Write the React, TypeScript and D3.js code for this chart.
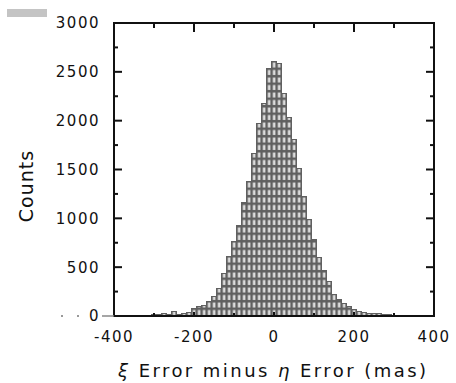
import React from "react";
import * as d3 from "d3";

const binCenters = [
  -312.5, -300, -287.5, -275, -262.5, -250, -237.5, -225, -212.5, -200, -187.5, -175, -162.5,
  -150, -137.5, -125, -112.5, -100, -87.5, -75, -62.5, -50, -37.5, -25, -12.5, 0, 12.5, 25,
  37.5, 50, 62.5, 75, 87.5, 100, 112.5, 125, 137.5, 150, 162.5, 175, 187.5, 200, 212.5, 225,
  237.5, 250, 262.5, 275, 287.5, 300, 312.5, 325,
];
const counts = [
  10, 15, 20, 25, 20, 50, 20, 30, 40, 75, 95, 110, 150, 195, 280, 440, 607, 760, 930, 1157,
  1375, 1666, 1973, 2171, 2530, 2610, 2590, 2283, 2035, 1812, 1515, 1220, 990, 780, 600, 470,
  350, 220, 165, 125, 95, 70, 50, 35, 30, 30, 25, 20, 15, 10, 8, 5,
];
const binWidth = 12.5;
const xTicksMajor = [-400, -200, 0, 200, 400];
const xTickLabels = ["-400", "-200", "0", "200", "400"];
const xTicksMinor = [-300, -100, 100, 300];
const yTicksMajor = [0, 500, 1000, 1500, 2000, 2500, 3000];
const yTickLabels = ["0", "500", "1000", "1500", "2000", "2500", "3000"];
const yTicksMinor = [250, 750, 1250, 1750, 2250, 2750];

const W = 456;
const H = 383;
const L = 114, R = 434, T = 23, B = 316;

export default function App() {
  const x = d3.scaleLinear().domain([-400, 400]).range([L, R]);
  const y = d3.scaleLinear().domain([0, 3000]).range([B, T]);
  const bw = x(binWidth) - x(0);
  const gray = "#606060";
  const font = "'DejaVu Sans', Verdana, sans-serif";
  return (
    <svg width={W} height={H} style={{ position: "absolute", left: 0, top: 0, background: "#fff" }}>
      <defs>
        <pattern id="cells" patternUnits="userSpaceOnUse" x={x(-binWidth / 2)} y={B} width={bw} height={7.5}>
          <rect x={0} y={0} width={bw} height={7.5} fill={gray} />
          <rect x={1.5} y={1.5} width={2.2} height={5} fill="#f2f2f2" />
        </pattern>
      </defs>
      <rect x={7} y={9} width={40} height={8} fill="#c4c4c4" />
      {binCenters.map((c, i) => (
        <rect
          key={i}
          x={x(c - binWidth / 2)}
          y={y(counts[i])}
          width={bw}
          height={B - y(counts[i])}
          fill="url(#cells)"
          stroke={gray}
          strokeWidth={1}
          shapeRendering="crispEdges"
        />
      ))}
      {/* frame */}
      <rect x={L} y={T} width={R - L} height={B - T} fill="none" stroke="#111" strokeWidth={2} />
      {/* x ticks */}
      {xTicksMajor.map((t) => (
        <g key={"xm" + t}>
          <line x1={x(t)} x2={x(t)} y1={T} y2={T + 9} stroke="#111" strokeWidth={2} />
          <line x1={x(t)} x2={x(t)} y1={B} y2={B - 4} stroke="#111" strokeWidth={2} />
        </g>
      ))}
      {xTicksMinor.map((t) => (
        <g key={"xn" + t}>
          <line x1={x(t)} x2={x(t)} y1={T} y2={T + 5} stroke="#111" strokeWidth={2} />
          <line x1={x(t)} x2={x(t)} y1={B} y2={B - 3} stroke="#111" strokeWidth={2} />
        </g>
      ))}
      {/* y ticks */}
      {yTicksMajor.map((t) => (
        <g key={"ym" + t}>
          <line x1={L} x2={L + 8} y1={y(t)} y2={y(t)} stroke="#111" strokeWidth={2} />
          <line x1={R} x2={R - 8} y1={y(t)} y2={y(t)} stroke="#111" strokeWidth={2} />
        </g>
      ))}
      {yTicksMinor.map((t) => (
        <g key={"yn" + t}>
          <line x1={L} x2={L + 4} y1={y(t)} y2={y(t)} stroke="#111" strokeWidth={2} />
          <line x1={R} x2={R - 4} y1={y(t)} y2={y(t)} stroke="#111" strokeWidth={2} />
        </g>
      ))}
      <line x1={102} x2={L} y1={B} y2={B} stroke="#888" strokeWidth={1.5} />
      <rect x={61} y={315} width={2} height={2} fill="#999" />
      <rect x={77} y={315} width={2} height={2} fill="#999" />
      {/* y tick labels */}
      {yTicksMajor.map((t, i) => (
        <text
          key={"yl" + t}
          x={100}
          y={y(t)}
          dy="0.36em"
          textAnchor="end"
          fontFamily={font}
          fontSize={15}
          letterSpacing={1.5}
          fill="#111"
        >
          {yTickLabels[i]}
        </text>
      ))}
      {/* x tick labels */}
      {xTicksMajor.map((t, i) => (
        <text
          key={"xl" + t}
          x={x(t)}
          y={342}
          textAnchor="middle"
          fontFamily={font}
          fontSize={15}
          letterSpacing={1.5}
          fill="#111"
        >
          {xTickLabels[i]}
        </text>
      ))}
      <text
        transform="translate(33,186) rotate(-90)"
        textAnchor="middle"
        fontFamily={font}
        fontSize={19}
        letterSpacing={1}
        fill="#111"
      >
        Counts
      </text>
      <text
        x={118}
        y={377}
        fontFamily={font}
        fontSize={18}
        textLength={308}
        lengthAdjust="spacing"
        fill="#111"
      >
        <tspan fontStyle="italic">ξ</tspan> Error minus <tspan fontStyle="italic">η</tspan> Error (mas)
      </text>
    </svg>
  );
}
